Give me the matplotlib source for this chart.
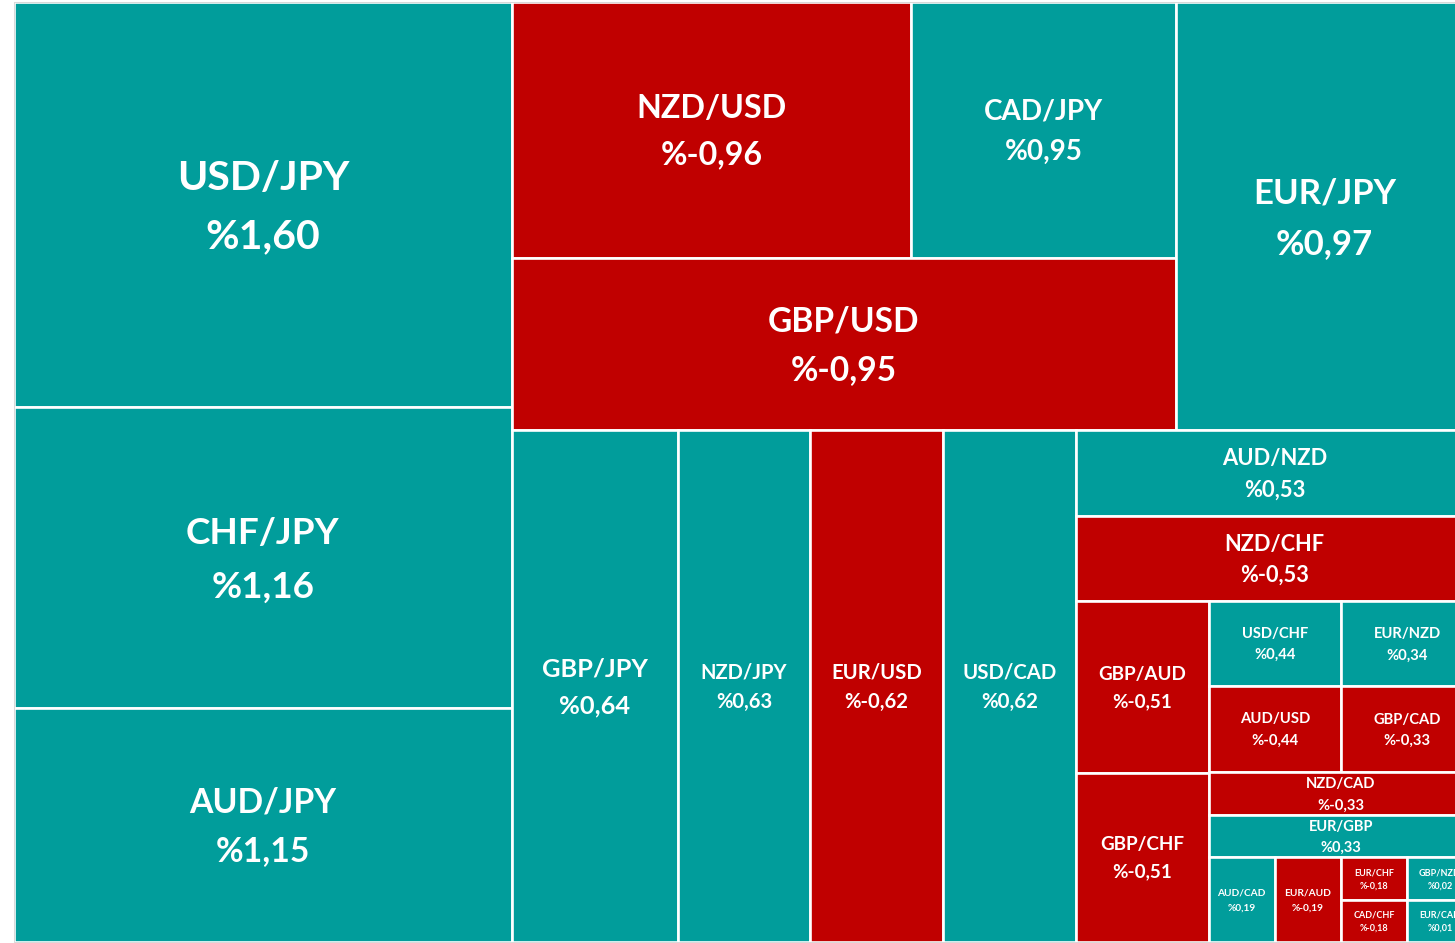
import numpy as np
import matplotlib.pyplot as plt
from matplotlib.patches import Rectangle

# Veriler: parite, günlük değişim (%) ve kutu ağırlığı (alan)
pairs = ['USD/JPY', 'CHF/JPY', 'AUD/JPY', 'EUR/JPY', 'NZD/USD', 'CAD/JPY', 'GBP/USD',
         'GBP/JPY', 'NZD/JPY', 'EUR/USD', 'USD/CAD', 'AUD/NZD', 'NZD/CHF', 'GBP/AUD',
         'GBP/CHF', 'USD/CHF', 'AUD/USD', 'EUR/NZD', 'GBP/CAD', 'NZD/CAD', 'EUR/GBP',
         'AUD/CAD', 'EUR/AUD', 'EUR/CHF', 'CAD/CHF', 'GBP/NZD', 'EUR/CAD']
changes = [1.60, 1.16, 1.15, 0.97, -0.96, 0.95, -0.95,
           0.64, 0.63, -0.62, 0.62, 0.53, -0.53, -0.51,
           -0.51, 0.44, -0.44, 0.34, -0.33, -0.33, 0.33,
           0.19, -0.19, -0.18, -0.18, 0.02, 0.01]
weights = [72, 53.5, 41.6, 45.4, 36.5, 24.2, 40.8,
           30.4, 24.1, 24.3, 24.4, 12.2, 12.0, 8.1,
           8.0, 4.0, 4.1, 4.0, 4.05, 4.07, 3.96,
           2.0, 2.0, 1.0, 1.0, 1.0, 1.0]

weight_of = dict(zip(pairs, weights))
change_of = dict(zip(pairs, changes))

# Treemap yerleşimi: 'h' = yan yana, 'v' = alt alta
layout = ('h', [
    ('v', ['USD/JPY', 'CHF/JPY', 'AUD/JPY']),
    ('v', [
        ('h', [('v', [('h', ['NZD/USD', 'CAD/JPY']), 'GBP/USD']), 'EUR/JPY']),
        ('h', ['GBP/JPY', 'NZD/JPY', 'EUR/USD', 'USD/CAD',
               ('v', ['AUD/NZD', 'NZD/CHF',
                      ('h', [('v', ['GBP/AUD', 'GBP/CHF']),
                             ('v', [('h', [('v', ['USD/CHF', 'AUD/USD']),
                                           ('v', ['EUR/NZD', 'GBP/CAD'])]),
                                    'NZD/CAD', 'EUR/GBP',
                                    ('h', ['AUD/CAD', 'EUR/AUD',
                                           ('v', ['EUR/CHF', 'CAD/CHF']),
                                           ('v', ['GBP/NZD', 'EUR/CAD'])])])])])]),
    ]),
])


def total(node):
    if isinstance(node, str):
        return weight_of[node]
    return sum(total(c) for c in node[1])


def place(node, x, y, w, h, out):
    if isinstance(node, str):
        out.append((node, x, y, w, h))
        return
    direction, children = node
    s = total(node)
    pos = 0.0
    for c in children:
        f = total(c) / s
        if direction == 'h':
            place(c, x + pos * w, y, f * w, h, out)
        else:
            place(c, x, y + pos * h, w, f * h, out)
        pos += f


TEAL = '#019D9B'
RED = '#C00000'

fig = plt.figure(figsize=(14.55, 9.43), dpi=100)
ax = fig.add_axes([0, 0, 1, 1])
ax.set_xlim(0, 1455)
ax.set_ylim(943, 0)
ax.axis('off')

rects = []
place(layout, 14, 2, 1459, 940, rects)

for name, x, y, w, h in rects:
    v = change_of[name]
    ax.add_patch(Rectangle((x, y), w, h, facecolor=TEAL if v >= 0 else RED,
                           edgecolor='white', linewidth=1.9, zorder=1))
    # yazı boyutu kutu alanına ve genişliğine göre
    spacing = min(59 * (np.sqrt(w * h) / 449) ** 0.708, 0.22 * w)
    fs = spacing * 0.5
    cap = 0.7165 * fs * 100 / 72
    cx, cy = x + w / 2, y + h / 2
    label = '%' + f'{v:.2f}'.replace('.', ',')
    ax.text(cx, cy - spacing / 2 + cap / 2, name, ha='center', va='baseline',
            color='white', fontsize=fs, fontweight='bold', family='Lato', zorder=3)
    ax.text(cx, cy + spacing / 2 + cap / 2, label, ha='center', va='baseline',
            color='white', fontsize=fs, fontweight='bold', family='Lato', zorder=3)

ax.add_patch(Rectangle((14, 2), 1459, 940, facecolor='none', edgecolor='#d9d9d9',
                       linewidth=0.75, zorder=2))

fig.savefig('out.png', dpi=100)
